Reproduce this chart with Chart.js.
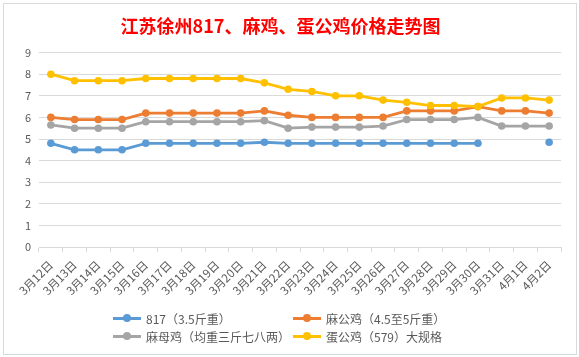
<!DOCTYPE html>
<html><head><meta charset="utf-8">
<script src="https://cdn.jsdelivr.net/npm/chart.js@4/dist/chart.umd.min.js"></script>
<style>
html,body{margin:0;padding:0;background:#fff;}
#wrap{position:relative;width:579px;height:357px;overflow:hidden;}
#frame{position:absolute;left:3px;top:3px;width:572px;height:350px;border:1px solid #d9d9d9;pointer-events:none;}
#c{position:absolute;left:0;top:0;}
#legend{position:absolute;left:0;top:0;width:579px;height:357px;font:12px "Noto Sans CJK SC",sans-serif;color:#595959;pointer-events:none;}
.item{position:absolute;display:flex;align-items:center;height:18px;white-space:nowrap;}
.sw{position:relative;width:28px;height:10px;margin-right:5px;}
.sw .ln{position:absolute;left:0;right:0;top:3.5px;height:3px;}
.sw .dot{position:absolute;left:10px;top:1px;width:8px;height:8px;border-radius:50%;}
</style></head>
<body>
<div id="wrap">
<canvas id="c" width="579" height="357"></canvas>
<div id="legend"></div>
<div id="frame"></div>
</div>
<script>
const labels = ['3月12日','3月13日','3月14日','3月15日','3月16日','3月17日','3月18日','3月19日','3月20日','3月21日','3月22日','3月23日','3月24日','3月25日','3月26日','3月27日','3月28日','3月29日','3月30日','3月31日','4月1日','4月2日'];
const seriesNames = ['817（3.5斤重）','麻公鸡（4.5至5斤重）','麻母鸡（均重三斤七八两）','蛋公鸡（579）大规格'];
const s817 = [4.8,4.5,4.5,4.5,4.8,4.8,4.8,4.8,4.8,4.85,4.8,4.8,4.8,4.8,4.8,4.8,4.8,4.8,4.8,null,null,4.85];
const maGong = [6.0,5.9,5.9,5.9,6.2,6.2,6.2,6.2,6.2,6.3,6.1,6.0,6.0,6.0,6.0,6.3,6.3,6.3,6.5,6.3,6.3,6.2];
const maMu = [5.65,5.5,5.5,5.5,5.8,5.8,5.8,5.8,5.8,5.85,5.5,5.55,5.55,5.55,5.6,5.9,5.9,5.9,6.0,5.6,5.6,5.6];
const danGong = [8.0,7.7,7.7,7.7,7.8,7.8,7.8,7.8,7.8,7.6,7.3,7.2,7.0,7.0,6.8,6.7,6.55,6.55,6.5,6.9,6.9,6.8];
const yTicks = [0,1,2,3,4,5,6,7,8,9];
const colors = ['#5B9BD5','#ED7D31','#A5A5A5','#FFC000'];
const seriesData = [s817, maGong, maMu, danGong];

const FONT = '"Noto Sans CJK SC", sans-serif';
const datasets = seriesData.map((d,i)=>({
  label: seriesNames[i],
  data: d,
  borderColor: colors[i],
  backgroundColor: colors[i],
  borderWidth: 2.8,
  pointRadius: 3.8,
  pointBorderWidth: 0,
  pointHoverRadius: 3.8,
  spanGaps: false,
  tension: 0,
  order: 4 - i
}));

new Chart(document.getElementById('c'), {
  type: 'line',
  data: { labels, datasets },
  options: {
    responsive: false,
    animation: false,
    layout: { padding: { left: 0, right: 18, top: 0, bottom: 60 } },
    plugins: {
      legend: { display: false },
      tooltip: { enabled: false },
      title: {
        display: true,
        text: '江苏徐州817、麻鸡、蛋公鸡价格走势图',
        color: '#FF0000',
        font: { family: FONT, size: 18, weight: 'bold' },
        padding: { top: 15, bottom: 16 }
      }
    },
    scales: {
      x: {
        offset: true,
        grid: { display: true, drawOnChartArea: false, drawTicks: true, tickLength: 5, color: '#d9d9d9', offset: true },
        border: { display: true, color: '#d9d9d9' },
        ticks: { color: '#595959', font: { family: FONT, size: 11.5 }, minRotation: 45, maxRotation: 45, autoSkip: false, padding: 6 },
        afterFit: s => { s.height = 50; }
      },
      y: {
        min: 0, max: 9,
        afterBuildTicks: s => { s.ticks = yTicks.map(v => ({ value: v })); },
        grid: { color: '#d9d9d9', drawTicks: false },
        border: { display: false },
        ticks: { color: '#595959', font: { family: FONT, size: 11 }, padding: 8 },
        afterFit: s => { s.width = 39; }
      }
    }
  }
});

// HTML legend (two aligned columns like the reference)
const legPos = [[113,309],[293,309],[113,327],[293,327]];
const leg = document.getElementById('legend');
seriesNames.forEach((n,i)=>{
  const it = document.createElement('div');
  it.className = 'item';
  it.style.left = legPos[i][0] + 'px';
  it.style.top = legPos[i][1] + 'px';
  it.innerHTML = '<div class="sw"><div class="ln" style="background:'+colors[i]+'"></div><div class="dot" style="background:'+colors[i]+'"></div></div><span></span>';
  it.querySelector('span').textContent = n;
  leg.appendChild(it);
});
</script>
</body></html>
